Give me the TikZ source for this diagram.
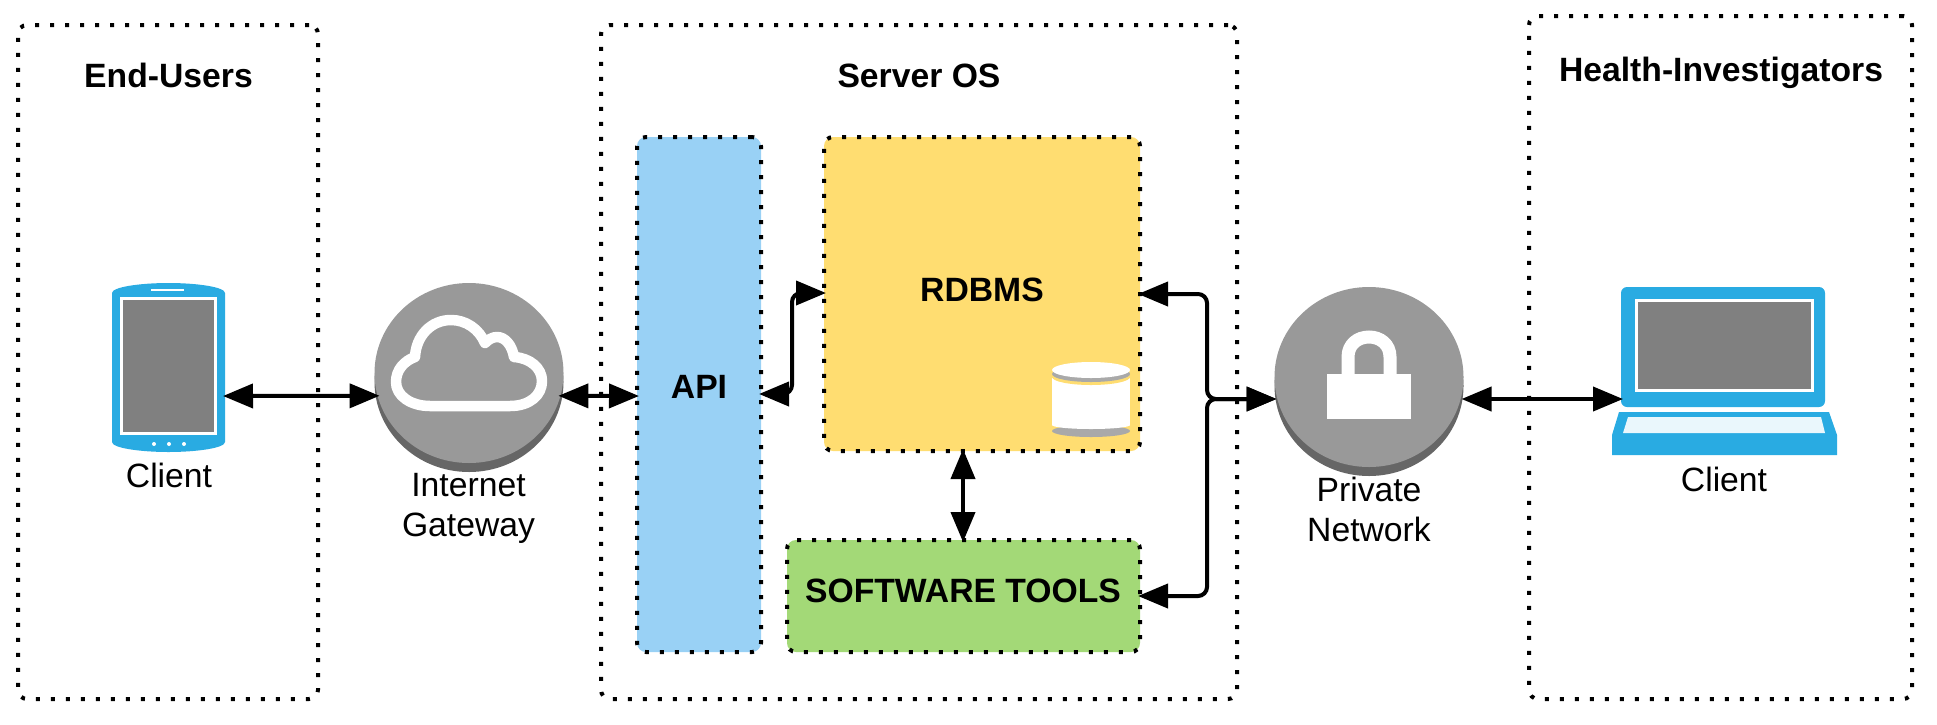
\documentclass[tikz,border=0pt]{standalone}
\usepackage{fontspec}
\setmainfont{Liberation Sans}
\usepackage{xcolor}
\usetikzlibrary{arrows.meta, shapes.geometric}
\definecolor{clientblue}{HTML}{29ABE2}
\definecolor{screengray}{HTML}{808080}
\definecolor{discgray}{HTML}{999999}
\definecolor{rimgray}{HTML}{666666}
\definecolor{apiblue}{HTML}{99D1F5}
\definecolor{rdbmsyellow}{HTML}{FFDD71}
\definecolor{toolsgreen}{HTML}{A3D977}
\definecolor{cylgray}{HTML}{A9A9A9}

\begin{document}
\begin{tikzpicture}[x=1pt, y=-1pt,
    dotbox/.style={draw=black, line width=4pt, dash pattern=on 4pt off 11pt, rounded corners=9pt, inner sep=0pt, outer sep=0pt},
    panel/.style={dotbox, minimum width=#1, minimum height=674pt},
    title/.style={font=\fontsize{33.7}{40}\selectfont\bfseries},
    plain/.style={font=\fontsize{33.7}{40}\selectfont, align=center, inner sep=0pt},
    disc/.style={ellipse, minimum width=189pt, minimum height=180pt, inner sep=0pt, outer sep=0pt, fill=discgray},
    rim/.style={disc, fill=rimgray},
    link/.style={line width=4pt, {Triangle[length=30pt,width=24pt]}-{Triangle[length=30pt,width=24pt]}, rounded corners=9pt, shorten >=-2pt, shorten <=-2pt}]
  \useasboundingbox (0,0) rectangle (1937,724);

  % panels
  \node [panel=300pt] (users) at (168,362) {};
  \node [panel=636pt] (server) at (919,362) {};
  \node [dotbox, minimum width=383pt, minimum height=683pt] (investigators) at (1720.5,357.5) {};
  \node [title] (userstitle) at (168.5,75.5) {End-Users};
  \node [title] (servertitle) at (919,75.5) {Server OS};
  \node [title] (investtitle) at (1721,72.5) {Health-Investigators};

  % phone
  \node [minimum width=113pt, minimum height=169pt, inner sep=0pt, outer sep=0pt] (phone) at (168.5,367.5) {};
  \fill [clientblue] (112,293) .. controls (112,287) and (140,283) .. (168.5,283)
    .. controls (197,283) and (225,287) .. (225,293) -- (225,442)
    .. controls (225,448) and (197,452) .. (168.5,452)
    .. controls (140,452) and (112,448) .. (112,442) -- cycle;
  \node [fill=screengray, draw=white, line width=3pt, minimum width=94pt, minimum height=135pt, inner sep=0pt] (phonescreen) at (168.5,366) {};
  \fill [white] (151,288.5) rectangle (184,291);
  \foreach \x in {154,169,184}
    \fill [white] (\x,444) circle [radius=2pt];
  \node [plain] (phonelabel) at (169,475) {Client};

  % gateway
  \node [rim] (gwrim) at (469,382) {};
  \node [disc] (gw) at (469,373) {};
  \draw [white, line width=10.5pt, line join=round] (430,406) -- (510,406)
    .. controls (530,406) and (542,395) .. (542,381)
    .. controls (542,368) and (530,358) .. (514,357)
    .. controls (512,345) and (505,337) .. (497,337)
    .. controls (492,337) and (488,340) .. (485,343)
    .. controls (479,329) and (466,320) .. (451,320)
    .. controls (431,320) and (416,336) .. (415,357)
    .. controls (404,361) and (396,370) .. (396,382)
    .. controls (396,396) and (411,406) .. (430,406) -- cycle;
  \node [plain] (gwlabel) at (468.5,508.5) {Internet\\Gateway};

  % server boxes
  \node [dotbox, fill=apiblue, minimum width=124pt, minimum height=515pt] (api) at (699,394.5) {};
  \node [title] (apilabel) at (699,387) {API};
  \node [dotbox, fill=rdbmsyellow, minimum width=316pt, minimum height=314pt] (rdbms) at (982,294) {};
  \node [title] (rdbmslabel) at (982,290) {RDBMS};
  \node [dotbox, fill=toolsgreen, minimum width=353pt, minimum height=112pt] (tools) at (963.5,596) {};
  \node [title] (toolslabel) at (963,591) {SOFTWARE TOOLS};

  % database icon
  \fill [cylgray] (1091,431) ellipse [x radius=39pt, y radius=6pt];
  \fill [white] (1052,378) rectangle (1130,425);
  \fill [white] (1091,425) ellipse [x radius=39pt, y radius=4pt];
  \fill [rdbmsyellow] (1091,377) ellipse [x radius=39pt, y radius=8pt];
  \fill [cylgray] (1091,374) ellipse [x radius=39pt, y radius=8pt];
  \fill [white] (1091,370) ellipse [x radius=39pt, y radius=8pt];

  % private network
  \node [rim] (netrim) at (1369,386) {};
  \node [disc] (net) at (1369,377) {};
  \draw [white, line width=13pt] (1348,376) -- (1348,357)
    .. controls (1348,344) and (1358,337) .. (1369,337)
    .. controls (1380,337) and (1390,344) .. (1390,357) -- (1390,376);
  \fill [white] (1327,374) rectangle (1411,419);
  \node [plain] (netlabel) at (1369,509) {Private\\Network};

  % laptop
  \node [fill=clientblue, rounded corners=6pt, minimum width=204pt, minimum height=120pt, inner sep=0pt, outer sep=0pt] (laptop) at (1723,347) {};
  \node [fill=screengray, draw=white, line width=3pt, minimum width=176pt, minimum height=90pt, inner sep=0pt] (laptopscreen) at (1724,345.5) {};
  \fill [clientblue] (1619,412) -- (1829,412) -- (1837,435) -- (1837,455) -- (1612,455) -- (1612,435) -- cycle;
  \fill [white!90!clientblue] (1628,417) -- (1821,417) -- (1825,433) -- (1623,433) -- cycle;
  \node [plain] (laptoplabel) at (1724,479) {Client};

  % links
  \coordinate (apiport) at (792,394);
  \coordinate (rdbmsport) at (792,293);
  \coordinate (junction) at (1207,399);
  \coordinate (toolsport) at (1207,596);
  \coordinate (rdbmsright) at (1207,294);
  \draw [link] (phone.east |- 0,396) -- (gw.194);
  \draw [link] (gw.-14) -- (api.west |- 0,396);
  \draw [link] (api.east |- apiport) -- (apiport) -- (rdbmsport) -- (rdbms.west |- rdbmsport);
  \draw [link] (rdbms.south -| 963,0) -- (tools.north -| 963,0);
  \draw [link] (rdbms.east |- rdbmsright) -- (rdbmsright) -- (junction) -- (net.west |- junction);
  \draw [link] (tools.east |- toolsport) -- (toolsport) -- (junction) -- (net.west |- junction);
  \draw [link] (net.east |- 0,399) -- (laptop.west |- 0,399);
\end{tikzpicture}
\end{document}
